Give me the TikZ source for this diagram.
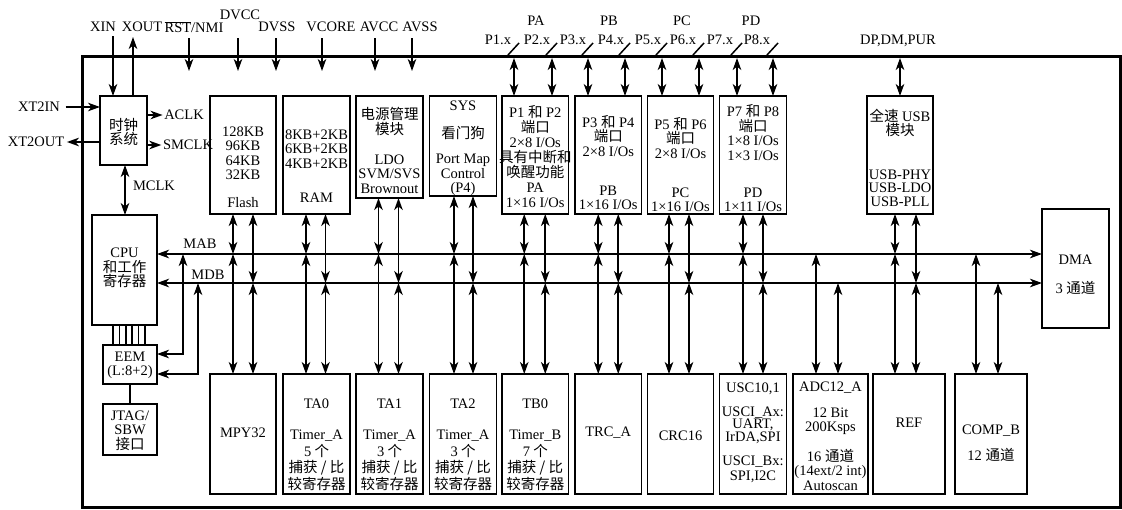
\documentclass[tikz,border=0pt]{standalone}
\usepackage{fontspec}
\setmainfont{Liberation Serif}
\newfontfamily\mczhfont{Noto Sans CJK SC}
\usetikzlibrary{arrows.meta}
\def\zh#1{{\mczhfont #1}}
\def\mcfs{\fontsize{14.5}{14.5}\selectfont}
\def\mcfw{\fontsize{14.5}{16.5}\selectfont}
\def\mcBox#1#2#3#4#5{%
  \node[mcblk, minimum width={(#4-#2)*1pt}, minimum height={(#5-#3)*1pt}]
    (#1) at ({(#2+#4)/2},{(#3+#5)/2}) {};}
\def\mcPin#1#2#3#4#5{%
  \node[mclbl] (#1) at (#2,#3) {#5};
  \coordinate (#1-a) at (#4,38);
  \coordinate (#1-b) at (#4,71);
  \draw[mcarr] (#1-a) -- (#1-b);}
\def\mcUp#1#2#3{\draw[mcdarr] ([xshift=#2pt]#1.south) -- ([xshift=#2pt]#1.south |- #3);}
\def\mcDn#1#2#3{\draw[mcdarr] ([xshift=#2pt]#1.north) -- ([xshift=#2pt]#1.north |- #3);}
\def\mcTimer#1#2#3#4{%
  \node[mctxt] (#1-n) at ([yshift=-30pt]#1.north) {#2};
  \node[mctxt, font=\mcfw] (#1-t) at ([yshift=-86.5pt]#1.north)
    {Timer\_#3\\#4\zh{ 个}\\\zh{捕获 / 比}\\\zh{较寄存器}};}

\begin{document}
\begin{tikzpicture}[
    x=1pt, y=-1pt,
    mcblk/.style   = {draw, line width=1.8pt, inner sep=0pt, outer sep=0pt},
    mcframe/.style = {line width=3pt},
    mcbus/.style   = {line width=2.3pt},
    mcln/.style    = {line width=1.5pt},
    mcarr/.style   = {-{Stealth[length=12pt,width=8.5pt,inset=3.5pt]}, line width=1.8pt},
    mcdarr/.style  = {{Stealth[length=12pt,width=8.5pt,inset=3.5pt]}-{Stealth[length=12pt,width=8.5pt,inset=3.5pt]}, line width=1.8pt},
    mclbl/.style   = {font=\mcfs, inner sep=0.5pt},
    mctxt/.style   = {font=\mcfs, align=center, inner sep=0pt}]

  \useasboundingbox (0,0) rectangle (1122,509);
  \draw[mcframe] (82,56) rectangle (1120,507);
  \coordinate (ft)  at (0,58);
  \coordinate (mab) at (0,254);
  \coordinate (mdb) at (0,283);

  %% ---- blocks --------------------------------------------------------
  \mcBox{clk}{100}{96}{147}{165}
  \mcBox{flash}{210}{96}{276}{214}
  \mcBox{ram}{283}{96}{350}{214}
  \mcBox{pmm}{356}{96}{423}{198}
  \mcBox{sys}{429.5}{96}{496.5}{196}
  \mcBox{p12}{502}{96}{568.5}{214}
  \mcBox{p34}{575}{96}{641.5}{214}
  \mcBox{p56}{647.5}{96}{713.5}{214}
  \mcBox{p78}{719.5}{96}{786.5}{214}
  \mcBox{usb}{867}{96}{933}{214}
  \mcBox{dma}{1042}{209}{1109}{328}
  \mcBox{cpu}{92}{215}{157}{325}
  \mcBox{eem}{103}{345}{157}{384}
  \mcBox{jtag}{103}{404}{157}{455}
  \mcBox{mpy}{210}{374}{276}{494}
  \mcBox{ta0}{283}{374}{350}{494}
  \mcBox{ta1}{356}{374}{423}{494}
  \mcBox{ta2}{429.5}{374}{496.5}{494}
  \mcBox{tb0}{502}{374}{568.5}{494}
  \mcBox{trc}{575}{374}{641.5}{494}
  \mcBox{crc}{647.5}{374}{713.5}{494}
  \mcBox{usci}{719.5}{374}{786.5}{494}
  \mcBox{adc}{793}{374}{868}{494}
  \mcBox{ref}{873}{374}{945}{494}
  \mcBox{comp}{955}{374}{1027}{494}

  %% ---- block texts ---------------------------------------------------
  \node[mctxt] (clk-t) at (123.5,132) {\zh{时钟}\\\zh{系统}};
  \node[mctxt] (flash-t) at (243,153) {128KB\\96KB\\64KB\\32KB};
  \node[mctxt] (flash-n) at (243,203) {Flash};
  \node[mctxt] (ram-t) at (316.5,149) {8KB+2KB\\6KB+2KB\\4KB+2KB};
  \node[mctxt] (ram-n) at (316.5,198) {RAM};
  \node[mctxt] (pmm-t) at (389.5,121.5) {\zh{电源管理}\\\zh{模块}};
  \node[mctxt] (pmm-n) at (389.5,174) {LDO\\SVM/SVS\\Brownout};
  \node[mctxt] (sys-t) at (463,106) {SYS};
  \node[mctxt] (sys-w) at (463,133) {\zh{看门狗}};
  \node[mctxt] (sys-n) at (463,175) {Port Map\\Control\\(P4)};
  \node[mctxt, font=\fontsize{14.5}{15}\selectfont] (p12-t) at (535.25,157)
    {P1 \zh{和} P2\\\zh{端口}\\2×8 I/Os\\\zh{具有中断和}\\\zh{唤醒功能}\\PA\\1×16 I/Os};
  \node[mctxt] (p34-t) at (608.25,136) {P3 \zh{和} P4\\\zh{端口}\\2×8 I/Os};
  \node[mctxt] (p34-n) at (608.25,198) {PB\\1×16 I/Os};
  \node[mctxt] (p56-t) at (680.5,138) {P5 \zh{和} P6\\\zh{端口}\\2×8 I/Os};
  \node[mctxt] (p56-n) at (680.5,200) {PC\\1×16 I/Os};
  \node[mctxt] (p78-t) at (753,132.5) {P7 \zh{和} P8\\\zh{端口}\\1×8 I/Os\\1×3 I/Os};
  \node[mctxt] (p78-n) at (753,200) {PD\\1×11 I/Os};
  \node[mctxt] (usb-t) at (900,123) {\zh{全速} USB\\\zh{模块}};
  \node[mctxt, font=\fontsize{14.5}{13.5}\selectfont] (usb-n) at (900,188) {USB-PHY\\USB-LDO\\USB-PLL};
  \node[mctxt] (dma-t) at (1075.5,260) {DMA};
  \node[mctxt] (dma-n) at (1075.5,288) {3 \zh{通道}};
  \node[mctxt] (cpu-t) at (124.5,268) {CPU\\\zh{和工作}\\\zh{寄存器}};
  \node[mctxt] (eem-t) at (130,365.5) {EEM\\(L:8+2)};
  \node[mctxt] (jtag-t) at (130,430.5) {JTAG/\\SBW\\\zh{接口}};
  \node[mctxt] (mpy-t) at (243,433) {MPY32};
  \mcTimer{ta0}{TA0}{A}{5}
  \mcTimer{ta1}{TA1}{A}{3}
  \mcTimer{ta2}{TA2}{A}{3}
  \mcTimer{tb0}{TB0}{B}{7}
  \node[mctxt] (trc-t) at (608.25,433) {TRC\_A};
  \node[mctxt] (crc-t) at (680.5,436) {CRC16};
  \node[mctxt] (usci-t) at (753,389) {USC10,1};
  \node[mctxt, font=\fontsize{14.5}{12.5}\selectfont] (usci-a) at (753,425) {USCI\_Ax:\\UART,\\IrDA,SPI};
  \node[mctxt] (usci-b) at (753,469.5) {USCI\_Bx:\\SPI,I2C};
  \node[mctxt] (adc-t) at (830.5,388) {ADC12\_A};
  \node[mctxt] (adc-r) at (830.5,421) {12 Bit\\200Ksps};
  \node[mctxt] (adc-n) at (830.5,469.5) {16 \zh{通道}\\(14ext/2 int)\\Autoscan};
  \node[mctxt] (ref-t) at (909,423) {REF};
  \node[mctxt] (comp-t) at (991,431) {COMP\_B};
  \node[mctxt] (comp-n) at (991,455) {12 \zh{通道}};

  %% ---- pins on the top edge ------------------------------------------
  \node[mclbl] (xin) at (103,27) {XIN};
  \node[mclbl] (xout) at (142,27) {XOUT};
  \coordinate (xin-a) at (113,36);
  \coordinate (xout-a) at (133,37);
  \draw[mcarr] (xin-a) -- (xin-a |- clk.north);
  \draw[mcarr] (xout-a |- clk.north) -- (xout-a);
  \mcPin{rst}{194}{27}{189}{\(\overline{\mbox{RST}}\)/NMI}
  \mcPin{dvcc}{240}{15}{238}{DVCC}
  \mcPin{dvss}{277}{27}{276}{DVSS}
  \mcPin{vcore}{331}{27}{322}{VCORE}
  \mcPin{avcc}{379}{27}{375}{AVCC}
  \mcPin{avss}{420}{27}{412}{AVSS}

  \foreach \pn/\px in {PA/536, PB/609, PC/682, PD/751}
    \node[mclbl] (lab\pn) at (\px,21) {\pn};
  \foreach \lab/\lx/\ax/\bx [count=\k] in {P1.x/498/514/p12, P2.x/537/552/p12,
      P3.x/573/588/p34, P4.x/611/625/p34, P5.x/648/662/p56, P6.x/683/699/p56,
      P7.x/720/737/p78, P8.x/757/773/p78} {
    \node[mclbl] (px\k) at (\lx,40) {\lab};
    \coordinate (sl\k) at (\ax,58);
    \draw[mcln] ({\ax-6},55) -- ({\ax+5},43);
    \draw[mcdarr] (sl\k) -- (sl\k |- \bx.north);
  }
  \node[mclbl] (dpdm) at (898,41) {DP,DM,PUR};
  \draw[mcdarr] (usb.north |- ft) -- (usb.north);

  %% ---- clock system --------------------------------------------------
  \node[mclbl] (xt2in) at (39,107) {XT2IN};
  \node[mclbl] (xt2out) at (36,142) {XT2OUT};
  \node[mclbl] (aclk) at (184,115) {ACLK};
  \node[mclbl] (smclk) at (188,145) {SMCLK};
  \node[mclbl] (mclk) at (154,186) {MCLK};
  \draw[mcarr] ([xshift=5pt]xt2in.east) -- (xt2in.east -| clk.west);
  \draw[mcarr] (xt2out.east -| clk.west) -- ([xshift=2pt]xt2out.east);
  \draw[mcarr] (aclk.west -| clk.east) -- ([xshift=-1pt]aclk.west);
  \draw[mcarr] (smclk.west -| clk.east) -- ([xshift=-1pt]smclk.west);
  \draw[mcdarr] ([xshift=1.5pt]clk.south) -- ([xshift=1.5pt]clk.south |- cpu.north);

  %% ---- CPU, EEM, JTAG ------------------------------------------------
  \foreach \i in {0,...,5}
    \draw[mcln] ([xshift={(-17+6.4*\i)*1pt}]eem.north) -- ([xshift={(-17+6.4*\i)*1pt}]eem.north |- cpu.south);
  \draw[mcln] (eem.south) -- (jtag.north);
  \coordinate (eemA) at (183,254);
  \coordinate (eemD) at (198,283);
  \draw[mcdarr] ([yshift=10.5pt]eem.east) -| (eemA);
  \draw[mcdarr] ([yshift=-9.5pt]eem.east) -| (eemD);

  %% ---- MAB / MDB -----------------------------------------------------
  \draw[mcdarr, mcbus] (cpu.east |- mab) -- (dma.west |- mab);
  \draw[mcdarr, mcbus] (cpu.east |- mdb) -- (dma.west |- mdb);
  \node[mclbl] (mabT) at (200,244) {MAB};
  \node[mclbl] (mdbT) at (208,275) {MDB};

  \foreach \tb/\bt/\dl/\dr in {flash/mpy/-10/10, ram/ta0/-10.5/9, pmm/ta1/-11/9,
      sys/ta2/-9/10, p12/tb0/-11/10, p34/trc/-10/10, p56/crc/-11.5/8.5, p78/usci/-10/10} {
    \mcUp{\tb}{\dl}{mab}
    \mcUp{\tb}{\dr}{mdb}
    \mcDn{\bt}{\dl}{mab}
    \mcDn{\bt}{\dr}{mdb}
  }
  \mcUp{usb}{-5}{mab}
  \mcUp{usb}{16}{mdb}
  \mcDn{ref}{-14}{mab}
  \mcDn{ref}{7}{mdb}
  \mcDn{adc}{-14.5}{mab}
  \mcDn{adc}{7.5}{mdb}
  \mcDn{comp}{-15}{mab}
  \mcDn{comp}{7}{mdb}
\end{tikzpicture}
\end{document}
